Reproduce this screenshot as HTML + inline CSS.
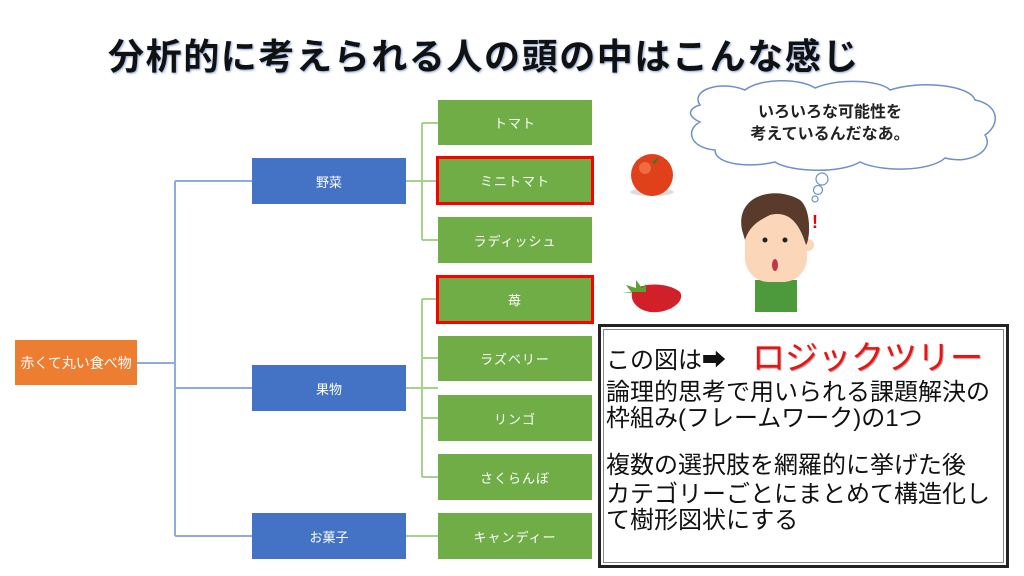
<!DOCTYPE html>
<html><head><meta charset="utf-8"><style>
body{margin:0;width:1024px;height:576px;background:#fff;position:relative;overflow:hidden;font-family:"Liberation Sans","Noto Sans CJK JP",sans-serif}
.b{position:absolute;display:flex;align-items:center;justify-content:center;color:#fff;font-size:13px;box-sizing:border-box}
.o{background:#ed7d31;left:15px;top:340px;width:122px;height:45px;font-size:14px}
.bl{background:#4472c4;left:252px;width:154px;height:46px}
.g{background:#70ad47;left:438px;width:154px;height:46px;letter-spacing:1px}
.r{border:3px solid #f00;left:436px;width:158px;height:49px}
.t{position:absolute;white-space:nowrap}
</style></head><body>
<div class="t" style="left:108px;top:28px;font-size:36px;font-weight:bold;color:#111;letter-spacing:1.6px;text-shadow:1px 1px 2px #8aa4d8">分析的に考えられる人の頭の中はこんな感じ</div>
<svg width="1024" height="576" style="position:absolute;left:0;top:0">
<g stroke="#8faadc" stroke-width="2" fill="none">
<path d="M137 363H175M175 181V536M175 181H252M175 388H252M175 536H252"/>
</g>
<g stroke="#a9d18e" stroke-width="2" fill="none">
<path d="M406 181H438M422 123V240M422 123H438M422 240H438"/>
<path d="M406 388H438M422 299V477M422 299H438M422 358H438M422 418H438M422 477H438"/>
<path d="M406 536H438"/>
</g>
<path d="M700 105 C690 90 720 80 745 90 C760 78 800 78 815 88 C840 78 880 80 890 90 C920 80 970 85 975 100 C1000 105 1000 125 985 135 C995 150 970 165 945 158 C930 172 880 172 860 162 C840 174 790 172 775 162 C750 168 715 165 715 150 C690 148 685 130 700 122 C685 115 690 108 700 105Z" fill="#fff" stroke="#6e8fc9" stroke-width="1.5"/>
<g fill="#fff" stroke="#6e8fc9" stroke-width="1.2"><circle cx="822" cy="179" r="6"/><circle cx="818" cy="190" r="4.5"/><circle cx="815" cy="199" r="3"/></g>
<ellipse cx="652" cy="192" rx="22" ry="4" fill="#ddd"/>
<circle cx="652" cy="175" r="21" fill="#e0401a"/><circle cx="645" cy="168" r="6" fill="#f58a60" opacity=".6"/>
<path d="M645 158l7 4 7-5-4 7z" fill="#3a7a2a"/>
<path d="M632 292 C640 282 668 282 680 292 C686 302 668 314 650 312 C638 310 630 302 632 292Z" fill="#d2202a"/>
<path d="M622 292l10 1-6-8 10 3 0-8 6 8 4-4 0 8z" fill="#5aa232"/>
<path d="M755 280 h42 v32 h-42z" fill="#4c9a3c"/>
<rect x="745" y="210" width="62" height="72" rx="24" fill="#fbd6b8"/>
<circle cx="808" cy="245" r="6" fill="#fbd6b8"/>
<path d="M742 230 C735 195 775 185 800 200 C812 210 810 240 806 245 C800 225 790 210 770 215 C760 220 750 225 745 240Z" fill="#5a3a2a"/>
<circle cx="765" cy="240" r="2.5" fill="#222"/><circle cx="785" cy="240" r="2.5" fill="#222"/>
<ellipse cx="775" cy="265" rx="3" ry="6" fill="#c2334a"/>
<text x="812" y="228" fill="#e00" font-size="18" font-weight="bold">!</text>
</svg>
<div class="t" style="left:730px;top:102px;font-size:16px;font-weight:bold;color:#222;line-height:22px;text-align:center;width:200px">いろいろな可能性を<br>考えているんだなあ。</div>
<div class="b o">赤くて丸い食べ物</div>
<div class="b bl" style="top:158px">野菜</div>
<div class="b bl" style="top:365px">果物</div>
<div class="b bl" style="top:513px">お菓子</div>
<div class="b g" style="top:100px;height:45px">トマト</div>
<div class="b g" style="top:157px;height:47px">ミニトマト</div>
<div class="b g" style="top:217px">ラディッシュ</div>
<div class="b g" style="top:276px;height:47px">苺</div>
<div class="b g" style="top:336px;height:45px">ラズベリー</div>
<div class="b g" style="top:395px">リンゴ</div>
<div class="b g" style="top:454px">さくらんぼ</div>
<div class="b g" style="top:513px">キャンディー</div>
<div class="b r" style="top:156px"></div>
<div class="b r" style="top:275px"></div>
<div style="position:absolute;left:598px;top:324px;width:411px;height:244px;box-sizing:border-box;border:3px solid #222;outline:1px solid #888;outline-offset:-6px;background:#fff"></div>
<div class="t" style="left:606px;top:340px;font-size:24px;color:#111">この図は➡</div>
<div class="t" style="left:752px;top:331px;font-size:33px;color:#f01010;text-shadow:1px 1px 1px #999">ロジックツリー</div>
<div class="t" style="left:606px;top:380px;font-size:24px;color:#111;line-height:26px">論理的思考で用いられる課題解決の<br>枠組み(フレームワーク)の1つ</div>
<div class="t" style="left:606px;top:445px;font-size:24px;color:#111">複数の選択肢を網羅的に挙げた後</div>
<div class="t" style="left:606px;top:482px;font-size:24px;color:#111;line-height:26px">カテゴリーごとにまとめて構造化し<br>て樹形図状にする</div>
</body></html>
